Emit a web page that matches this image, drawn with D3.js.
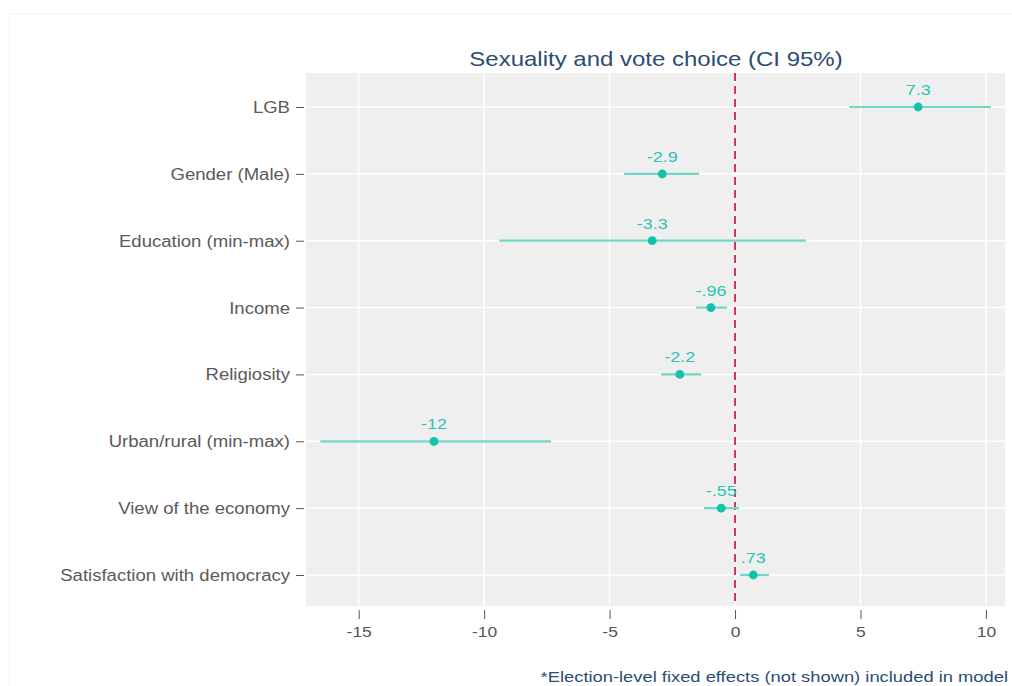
<!DOCTYPE html>
<html><head><meta charset="utf-8">
<script src="https://cdn.jsdelivr.net/npm/d3@7"></script>
<style>body{margin:0;background:#fff;} svg{display:block;}</style>
</head><body>
<svg id="c" width="1012" height="686"></svg>
<script>
const categories = ["LGB","Gender (Male)","Education (min-max)","Income","Religiosity","Urban/rural (min-max)","View of the economy","Satisfaction with democracy"];
const estimates = [7.3, -2.9, -3.3, -0.96, -2.2, -12, -0.55, 0.73];
const ciLow = [4.55, -4.42, -9.4, -1.55, -2.95, -16.53, -1.24, 0.2];
const ciHigh = [10.2, -1.43, 2.83, -0.32, -1.35, -7.33, 0.16, 1.35];
const estLabels = ["7.3","-2.9","-3.3","-.96","-2.2","-12","-.55",".73"];
const xTicks = [-15,-10,-5,0,5,10];
const title = "Sexuality and vote choice (CI 95%)";
const note = "*Election-level fixed effects (not shown) included in model";

const svg = d3.select("#c");
const font = "'Liberation Sans', Arial, sans-serif";
const SX = 1.2;
svg.append("rect").attr("x",9).attr("y",14).attr("width",1010).attr("height",680)
  .attr("fill","#fff").attr("stroke","#f3f3f3");

const L=306, R=1005, T=73, B=606;
const x = d3.scaleLinear().domain([-17.1, 10.76]).range([L,R]);
const y = d3.scalePoint().domain(categories).range([107,575]);

svg.append("rect").attr("x",L).attr("y",T).attr("width",R-L).attr("height",B-T).attr("fill","#efefef");
const g = svg.append("g");
g.selectAll(".vg").data(xTicks).join("line").attr("x1",d=>x(d)).attr("x2",d=>x(d)).attr("y1",T).attr("y2",B)
  .attr("stroke","#fff").attr("stroke-width",1.5);
g.selectAll(".hg").data(categories).join("line").attr("x1",L).attr("x2",R).attr("y1",d=>y(d)).attr("y2",d=>y(d))
  .attr("stroke","#fff").attr("stroke-width",1.5);

// axes
const xa = svg.append("g").attr("transform",`translate(0,${B})`)
  .call(d3.axisBottom(x).tickValues(xTicks).tickSize(9).tickPadding(6).tickFormat(d=>d));
xa.select(".domain").remove();
xa.selectAll("line").attr("stroke","#555").attr("transform","translate(0,4)");
xa.selectAll("text").attr("fill","#555").style("font-size","14px").style("font-family",font)
  .attr("x",0).attr("y",0).attr("dy",null).attr("transform",`translate(0,31) scale(1.25,1)`);

const ya = svg.append("g").attr("transform",`translate(${L},0)`)
  .call(d3.axisLeft(y).tickSize(8).tickPadding(6));
ya.select(".domain").remove();
ya.selectAll("line").attr("stroke","#555").attr("transform","translate(-2,0)");
ya.selectAll("text").attr("fill","#5a5a5a").style("font-size","15.6px").style("font-family",font)
  .attr("x",0).attr("dy",null).attr("y",0).attr("transform",`translate(-16,5.5) scale(1.19,1)`);

// reference line
svg.append("line").attr("x1",x(0)).attr("x2",x(0)).attr("y1",T).attr("y2",B)
  .attr("stroke","#c8063c").attr("stroke-width",1.6).attr("stroke-dasharray","8,5");

const data = categories.map((c,i)=>({c, e:estimates[i], lo:ciLow[i], hi:ciHigh[i], lab:estLabels[i]}));
svg.selectAll(".ci").data(data).join("line").attr("x1",d=>x(d.lo)).attr("x2",d=>x(d.hi))
  .attr("y1",d=>y(d.c)).attr("y2",d=>y(d.c)).attr("stroke","#6fd8c9").attr("stroke-width",2.2);
svg.selectAll(".pt").data(data).join("circle").attr("cx",d=>x(d.e)).attr("cy",d=>y(d.c)).attr("r",4.4)
  .attr("fill","#13c2a8");
svg.selectAll(".lab").data(data).join("text")
  .attr("transform",d=>`translate(${x(d.e)},${y(d.c)-12}) scale(${SX},1)`)
  .attr("text-anchor","middle").attr("fill","#2cc4b4").style("font-size","15px").style("font-family",font).text(d=>d.lab);

svg.append("text").attr("transform",`translate(656,66) scale(${SX},1)`).attr("text-anchor","middle").attr("fill","#2b4d74")
  .style("font-size","20px").style("font-family",font).text(title);
svg.append("text").attr("transform",`translate(1008,682) scale(${SX},1)`).attr("text-anchor","end").attr("fill","#2b4d74")
  .style("font-size","15.3px").style("font-family",font).text(note);
</script>
</body></html>
